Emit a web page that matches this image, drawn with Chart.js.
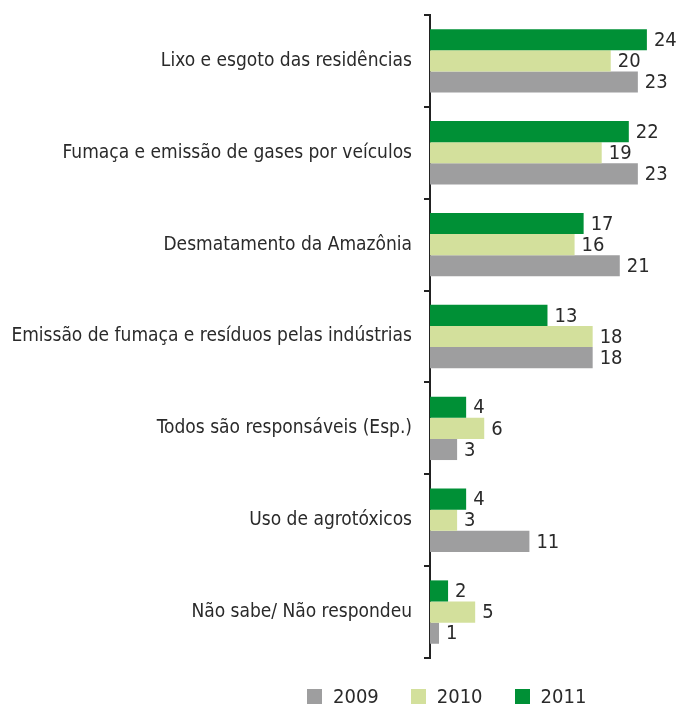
<!DOCTYPE html>
<html>
<head>
<meta charset="utf-8">
<script src="https://cdn.jsdelivr.net/npm/chart.js@4"></script>
<style>
  body { margin: 0; background: #fff; }
  #wrap { position: relative; width: 685px; height: 705px; }
  #legend { position: absolute; left: 307px; top: 684px; display: flex; font-family: 'DejaVu Sans Condensed', 'Roboto', sans-serif; font-size: 20px; color: #2a2a2a; }
  #legend .item { display: flex; align-items: center; margin-right: 32px; }
  #legend .box { width: 15px; height: 15px; margin-right: 11px; }
</style>
</head>
<body>
<div id="wrap">
  <canvas id="chart" width="685" height="705"></canvas>
  <div id="legend"></div>
</div>
<script>
var categories = [
    'Lixo e esgoto das residências',
    'Fumaça e emissão de gases por veículos',
    'Desmatamento da Amazônia',
    'Emissão de fumaça e resíduos pelas indústrias',
    'Todos são responsáveis (Esp.)',
    'Uso de agrotóxicos',
    'Não sabe/ Não respondeu'
];
var values2011 = [24, 22, 17, 13, 4, 4, 2];
var values2010 = [20, 19, 16, 18, 6, 3, 5];
var values2009 = [23, 23, 21, 18, 3, 11, 1];
var years = ['2011', '2010', '2009'];
var colors = ['#009036', '#d3e09c', '#9e9e9f'];

var fontFamily = "'DejaVu Sans Condensed', 'Roboto', sans-serif";

// rótulos de valor depois de cada barra
var valueLabels = {
    id: 'valueLabels',
    afterDatasetsDraw: function (chart) {
        var ctx = chart.ctx;
        ctx.save();
        ctx.font = '20px ' + fontFamily;
        ctx.fillStyle = '#2a2a2a';
        ctx.textBaseline = 'middle';
        ctx.textAlign = 'left';
        chart.data.datasets.forEach(function (ds, i) {
            chart.getDatasetMeta(i).data.forEach(function (bar, j) {
                ctx.fillText(ds.data[j], bar.x + 7, bar.y + 1);
            });
        });
        ctx.restore();
    }
};

var ctx = document.getElementById('chart').getContext('2d');
window.mainChart = new Chart(ctx, {
    type: 'bar',
    data: {
        labels: categories,
        datasets: [
            { label: years[0], data: values2011, backgroundColor: colors[0] },
            { label: years[1], data: values2010, backgroundColor: colors[1] },
            { label: years[2], data: values2009, backgroundColor: colors[2] }
        ]
    },
    options: {
        indexAxis: 'y',
        responsive: false,
        animation: false,
        devicePixelRatio: 1,
        layout: { padding: { top: 15, bottom: 47, right: 11, left: 0 } },
        datasets: { bar: { categoryPercentage: 0.69, barPercentage: 1 } },
        plugins: { legend: { display: false }, tooltip: { enabled: false } },
        scales: {
            x: { display: false, min: 0, max: 27 },
            y: {
                afterFit: function (scale) {
                    scale.width = 430;
                    scale.paddingTop = 0;
                    scale.paddingBottom = 0;
                },
                border: { display: true, color: '#222', width: 2 },
                grid: { drawOnChartArea: false, offset: true, color: '#222', lineWidth: 2, tickLength: 6 },
                ticks: { color: '#2a2a2a', padding: 12, font: { family: fontFamily, size: 19 } }
            }
        }
    },
    plugins: [valueLabels]
});

// legenda na ordem 2009, 2010, 2011
var legend = document.getElementById('legend');
[2, 1, 0].forEach(function (i) {
    var item = document.createElement('div');
    item.className = 'item';
    item.innerHTML = '<span class="box" style="background:' + colors[i] + '"></span>' + years[i];
    legend.appendChild(item);
});
</script>
</body>
</html>
